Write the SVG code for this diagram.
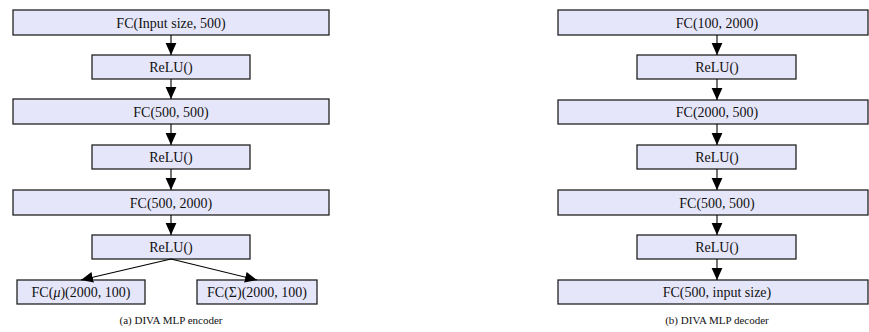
<svg xmlns="http://www.w3.org/2000/svg" width="869" height="332" viewBox="0 0 869 332">
<style>
.box{fill:#e6e6fa;stroke:#222;stroke-width:1.3}
.edge{stroke:#000;stroke-width:1.1;fill:none;marker-end:url(#ah)}
</style>
<defs>
<marker id="ah" markerUnits="userSpaceOnUse" markerWidth="12" markerHeight="12" viewBox="0 0 10 10" refX="10" refY="5" orient="auto">
<path d="M0,0.5 L10,5 L0,9.5 Z" fill="#000"/>
</marker>
</defs>
<g font-family="'Liberation Serif', 'Times New Roman', serif" fill="#111" text-anchor="middle">
<g font-size="14">
<g id="enc-fc1"><rect class="box" x="13" y="10" width="316" height="25"/><text x="171" y="27.5">FC(Input size, 500)</text></g>
<g id="enc-relu1"><rect class="box" x="92" y="55" width="158" height="24"/><text x="171" y="72">ReLU()</text></g>
<g id="enc-fc2"><rect class="box" x="13" y="99" width="316" height="25"/><text x="171" y="116.5">FC(500, 500)</text></g>
<g id="enc-relu2"><rect class="box" x="92" y="145" width="158" height="24"/><text x="171" y="162">ReLU()</text></g>
<g id="enc-fc3"><rect class="box" x="13" y="190" width="316" height="25"/><text x="171" y="207.5">FC(500, 2000)</text></g>
<g id="enc-relu3"><rect class="box" x="92" y="235" width="158" height="24"/><text x="171" y="252">ReLU()</text></g>
<g id="enc-mu"><rect class="box" x="17" y="280" width="128" height="24"/><text x="81" y="297">FC(<tspan font-style="italic">μ</tspan>)(2000, 100)</text></g>
<g id="enc-sigma"><rect class="box" x="197" y="280" width="120" height="24"/><text x="257" y="297">FC(Σ)(2000, 100)</text></g>
<g id="dec-fc1"><rect class="box" x="558" y="10" width="310" height="25"/><text x="717" y="27.5">FC(100, 2000)</text></g>
<g id="dec-relu1"><rect class="box" x="637" y="55" width="159" height="24"/><text x="717" y="72">ReLU()</text></g>
<g id="dec-fc2"><rect class="box" x="558" y="100" width="310" height="24"/><text x="717" y="117">FC(2000, 500)</text></g>
<g id="dec-relu2"><rect class="box" x="637" y="145" width="159" height="24"/><text x="717" y="162">ReLU()</text></g>
<g id="dec-fc3"><rect class="box" x="558" y="190" width="310" height="25"/><text x="717" y="207.5">FC(500, 500)</text></g>
<g id="dec-relu3"><rect class="box" x="637" y="235" width="159" height="24"/><text x="717" y="252">ReLU()</text></g>
<g id="dec-fc4"><rect class="box" x="558" y="280" width="310" height="24"/><text x="717" y="297">FC(500, input size)</text></g>
</g>
<g font-size="11">
<text x="171" y="324">(a) DIVA MLP encoder</text>
<text x="717" y="324">(b) DIVA MLP decoder</text>
</g>
</g>
<g id="connectors">
<line class="edge" x1="171" y1="35" x2="171" y2="55"/>
<line class="edge" x1="171" y1="79" x2="171" y2="99"/>
<line class="edge" x1="171" y1="124" x2="171" y2="145"/>
<line class="edge" x1="171" y1="169" x2="171" y2="190"/>
<line class="edge" x1="171" y1="215" x2="171" y2="235"/>
<line class="edge" x1="171" y1="259" x2="81" y2="280"/>
<line class="edge" x1="171" y1="259" x2="257" y2="280"/>
<line class="edge" x1="717" y1="35" x2="717" y2="55"/>
<line class="edge" x1="717" y1="79" x2="717" y2="100"/>
<line class="edge" x1="717" y1="124" x2="717" y2="145"/>
<line class="edge" x1="717" y1="169" x2="717" y2="190"/>
<line class="edge" x1="717" y1="215" x2="717" y2="235"/>
<line class="edge" x1="717" y1="259" x2="717" y2="280"/>
</g>
</svg>
